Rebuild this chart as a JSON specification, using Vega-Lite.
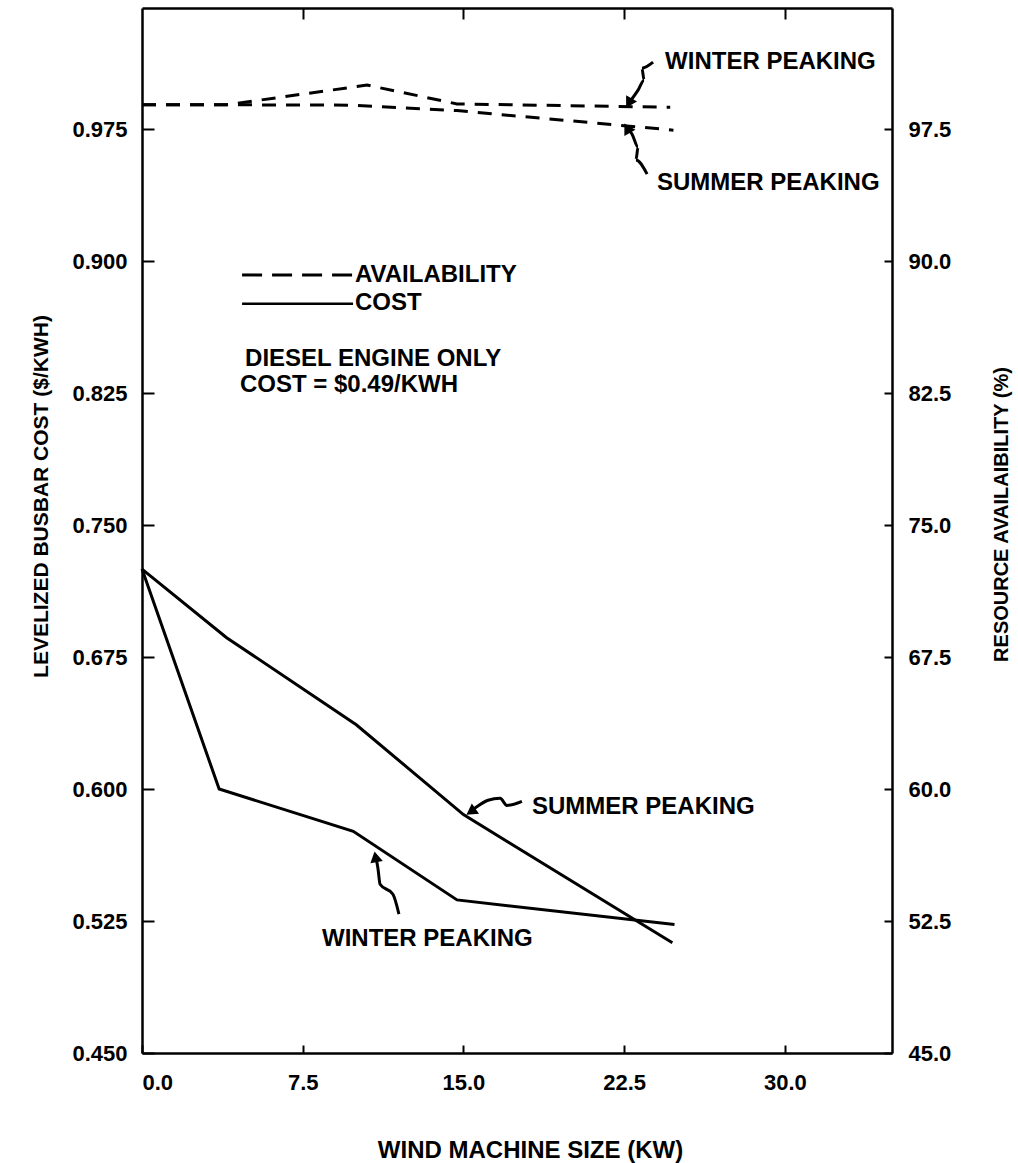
{
  "$schema": "https://vega.github.io/schema/vega-lite/v6.json",
  "width": 750,
  "height": 1045,
  "autosize": {"type": "none"},
  "padding": {"left": 142, "top": 8, "right": 126, "bottom": 110},
  "background": "white",
  "config": {
    "view": {"stroke": null},
    "axis": {
      "grid": false,
      "domainColor": "black",
      "domainWidth": 2.5,
      "tickColor": "black",
      "tickWidth": 2,
      "labelFont": "Liberation Sans",
      "labelFontWeight": "bold",
      "labelFontSize": 22,
      "labelColor": "black",
      "titleFont": "Liberation Sans",
      "titleFontWeight": "bold",
      "titleColor": "black"
    },
    "text": {"font": "Liberation Sans", "fontWeight": "bold", "fontSize": 24, "color": "black"}
  },
  "datasets": {
    "cost": [
      {"season": "Summer", "x": 0, "y": 0.725},
      {"season": "Summer", "x": 3.95, "y": 0.686},
      {"season": "Summer", "x": 10.0, "y": 0.6365},
      {"season": "Summer", "x": 15.0, "y": 0.5855},
      {"season": "Summer", "x": 24.75, "y": 0.5126},
      {"season": "Winter", "x": 0, "y": 0.725},
      {"season": "Winter", "x": 3.6, "y": 0.6},
      {"season": "Winter", "x": 9.86, "y": 0.576},
      {"season": "Winter", "x": 14.7, "y": 0.537},
      {"season": "Winter", "x": 24.85, "y": 0.523}
    ],
    "availability": [
      {"season": "Winter", "x": 0, "avail": 98.88},
      {"season": "Winter", "x": 3.95, "avail": 98.88},
      {"season": "Winter", "x": 10.5, "avail": 100.0},
      {"season": "Winter", "x": 14.7, "avail": 98.93},
      {"season": "Winter", "x": 24.65, "avail": 98.74},
      {"season": "Summer", "x": 0, "avail": 98.88},
      {"season": "Summer", "x": 3.95, "avail": 98.88},
      {"season": "Summer", "x": 9.85, "avail": 98.86},
      {"season": "Summer", "x": 14.7, "avail": 98.55},
      {"season": "Summer", "x": 24.8, "avail": 97.44}
    ],
    "leaders": [
      {"arrow": "wt", "seq": 1, "x": 23.85, "y": 1.013},
      {"arrow": "wt", "seq": 2, "x": 23.33, "y": 1.0096},
      {"arrow": "wt", "seq": 3, "x": 23.43, "y": 1.0028},
      {"arrow": "wt", "seq": 4, "x": 23.15, "y": 0.9971},
      {"arrow": "wt", "seq": 5, "x": 22.82, "y": 0.9914},
      {"arrow": "st", "seq": 1, "x": 23.57, "y": 0.9494},
      {"arrow": "st", "seq": 2, "x": 23.05, "y": 0.9574},
      {"arrow": "st", "seq": 3, "x": 23.15, "y": 0.9648},
      {"arrow": "st", "seq": 4, "x": 22.87, "y": 0.9721},
      {"arrow": "st", "seq": 5, "x": 22.7, "y": 0.975},
      {"arrow": "sb", "seq": 1, "x": 17.73, "y": 0.593},
      {"arrow": "sb", "seq": 2, "x": 17.03, "y": 0.5907},
      {"arrow": "sb", "seq": 3, "x": 16.71, "y": 0.5947},
      {"arrow": "sb", "seq": 4, "x": 16.15, "y": 0.5936},
      {"arrow": "sb", "seq": 5, "x": 15.59, "y": 0.5896},
      {"arrow": "sb", "seq": 6, "x": 15.35, "y": 0.5875},
      {"arrow": "wb", "seq": 1, "x": 11.99, "y": 0.5289},
      {"arrow": "wb", "seq": 2, "x": 11.71, "y": 0.5402},
      {"arrow": "wb", "seq": 3, "x": 11.11, "y": 0.5459},
      {"arrow": "wb", "seq": 4, "x": 11.01, "y": 0.555},
      {"arrow": "wb", "seq": 5, "x": 10.92, "y": 0.561}
    ],
    "heads": [
      {"arrow": "wt", "x": 22.72, "y": 0.9898},
      {"arrow": "st", "x": 22.64, "y": 0.9755},
      {"arrow": "sb", "x": 15.35, "y": 0.5871},
      {"arrow": "wb", "x": 10.9, "y": 0.5615}
    ],
    "keys": [
      {"key": "AVAILABILITY", "x": 4.67, "y": 0.8921},
      {"key": "AVAILABILITY", "x": 9.85, "y": 0.8921},
      {"key": "COST", "x": 4.67, "y": 0.8757},
      {"key": "COST", "x": 9.85, "y": 0.8757}
    ],
    "notes": [
      {"label": "WINTER PEAKING", "x": 24.41, "y": 1.013},
      {"label": "SUMMER PEAKING", "x": 24.03, "y": 0.9443},
      {"label": "AVAILABILITY", "x": 9.94, "y": 0.8921},
      {"label": "COST", "x": 9.94, "y": 0.8762},
      {"label": "DIESEL ENGINE ONLY", "x": 4.81, "y": 0.8444},
      {"label": "COST = $0.49/KWH", "x": 4.57, "y": 0.8297},
      {"label": "SUMMER PEAKING", "x": 18.2, "y": 0.5896},
      {"label": "WINTER PEAKING", "x": 8.4, "y": 0.5147}
    ]
  },
  "layer": [
    {
      "encoding": {
        "x": {
          "field": "x", "type": "quantitative",
          "scale": {"domain": [0, 35], "nice": false, "zero": false},
          "axis": {
            "orient": "bottom",
            "values": [0, 7.5, 15, 22.5, 30],
            "format": ".1f",
            "tickSize": -8,
            "labelPadding": 27,
            "labelFlush": 1,
            "title": "WIND MACHINE SIZE (KW)",
            "titleFontSize": 24,
            "titleX": 388,
            "titleY": 104,
            "titleAlign": "center",
            "titleBaseline": "alphabetic"
          }
        },
        "y": {
          "field": "y", "type": "quantitative",
          "scale": {"domain": [0.45, 1.0438], "nice": false, "zero": false},
          "axis": {
            "orient": "left",
            "values": [0.45, 0.525, 0.6, 0.675, 0.75, 0.825, 0.9, 0.975],
            "format": ".3f",
            "tickSize": -12,
            "labelPadding": 27,
            "title": "LEVELIZED BUSBAR COST ($/KWH)",
            "titleFontSize": 21,
            "titleAngle": 270,
            "titleX": -95,
            "titleY": 488,
            "titleAlign": "center",
            "titleBaseline": "alphabetic"
          }
        }
      },
      "layer": [
        {
          "data": {"name": "cost"},
          "mark": {"type": "line", "color": "black", "strokeWidth": 3},
          "encoding": {"detail": {"field": "season"}}
        },
        {
          "data": {"name": "keys"},
          "transform": [{"filter": "datum.key === 'AVAILABILITY'"}],
          "mark": {"type": "line", "color": "black", "strokeWidth": 3, "strokeDash": [20, 10]},
          "encoding": {"detail": {"field": "key"}}
        },
        {
          "data": {"name": "keys"},
          "transform": [{"filter": "datum.key === 'COST'"}],
          "mark": {"type": "line", "color": "black", "strokeWidth": 2.5},
          "encoding": {"detail": {"field": "key"}}
        },
        {
          "data": {"name": "leaders"},
          "mark": {"type": "line", "color": "black", "strokeWidth": 3, "interpolate": "monotone"},
          "encoding": {"detail": {"field": "arrow"}, "order": {"field": "seq"}}
        },
        {
          "data": {"name": "heads"},
          "transform": [{"filter": "datum.arrow === 'wt'"}],
          "mark": {"type": "point", "shape": "triangle-up", "filled": true, "color": "black", "opacity": 1, "size": 160, "angle": 210}
        },
        {
          "data": {"name": "heads"},
          "transform": [{"filter": "datum.arrow === 'st'"}],
          "mark": {"type": "point", "shape": "triangle-up", "filled": true, "color": "black", "opacity": 1, "size": 160, "angle": 330}
        },
        {
          "data": {"name": "heads"},
          "transform": [{"filter": "datum.arrow === 'sb'"}],
          "mark": {"type": "point", "shape": "triangle-up", "filled": true, "color": "black", "opacity": 1, "size": 160, "angle": 235}
        },
        {
          "data": {"name": "heads"},
          "transform": [{"filter": "datum.arrow === 'wb'"}],
          "mark": {"type": "point", "shape": "triangle-up", "filled": true, "color": "black", "opacity": 1, "size": 160, "angle": 349}
        },
        {
          "data": {"name": "notes"},
          "mark": {"type": "text", "align": "left", "baseline": "middle"},
          "encoding": {"text": {"field": "label"}}
        }
      ]
    },
    {
      "data": {"name": "availability"},
      "mark": {"type": "line", "color": "black", "strokeWidth": 3, "strokeDash": [14, 10]},
      "encoding": {
        "detail": {"field": "season"},
        "x": {
          "field": "x", "type": "quantitative",
          "scale": {"domain": [0, 35], "nice": false, "zero": false},
          "axis": {
            "orient": "top",
            "values": [7.5, 15, 22.5, 30],
            "labels": false,
            "tickSize": -11,
            "title": null
          }
        },
        "y": {
          "field": "avail", "type": "quantitative",
          "scale": {"domain": [45, 104.38], "nice": false, "zero": false},
          "axis": {
            "orient": "right",
            "values": [45, 52.5, 60, 67.5, 75, 82.5, 90, 97.5],
            "format": ".1f",
            "tickSize": -8,
            "labelPadding": 24,
            "title": "RESOURCE AVAILAIBILITY (%)",
            "titleFontSize": 20,
            "titleAngle": 270,
            "titleX": 115,
            "titleY": 506,
            "titleAlign": "center",
            "titleBaseline": "alphabetic"
          }
        }
      }
    }
  ],
  "resolve": {
    "scale": {"y": "independent"},
    "axis": {"x": "independent", "y": "independent"}
  }
}
